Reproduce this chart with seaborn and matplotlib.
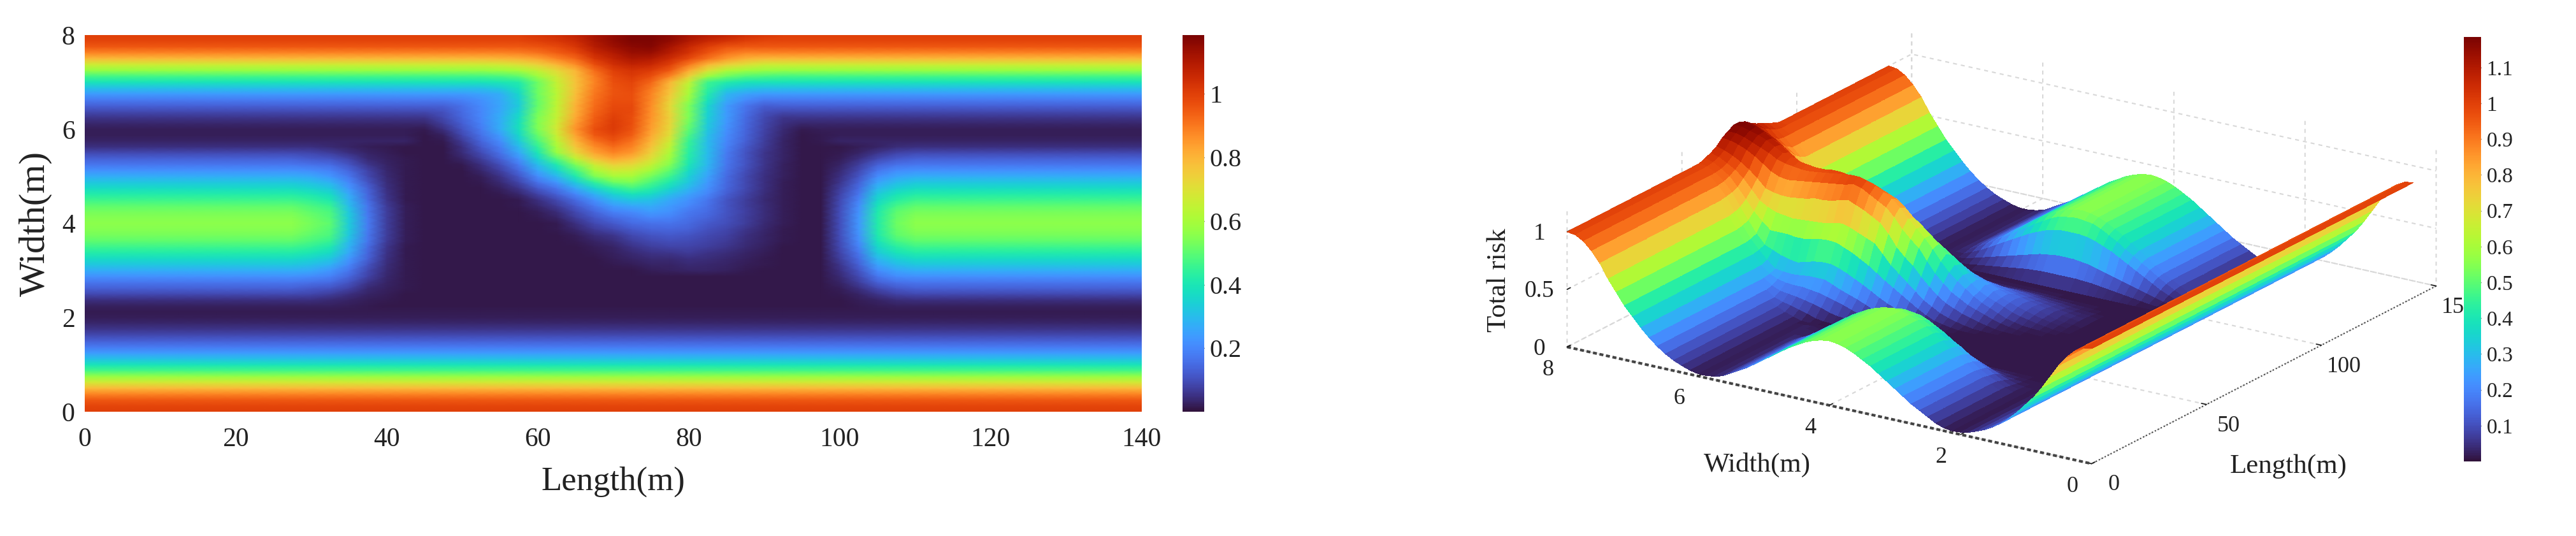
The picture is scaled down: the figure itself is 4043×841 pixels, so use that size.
import numpy as np
import pandas as pd
import matplotlib
matplotlib.use("Agg")
import matplotlib.pyplot as plt
import seaborn as sns

# Risk at width 0, 0.125, ... 8 m (rows) and length 0, 2.5, ... 140 m (columns)
width_m = [i * 0.125 for i in range(65)]
length_m = [i * 2.5 for i in range(57)]

low = [1.0, .99, .95, .88, .79, .68, .57, .47, .39, .31, .24, .18, .13, .09, .06, .035, .02, .015]   # width 0-2.125 m
mid = [.025, .05, .09, .13, .17, .22, .27, .32, .37, .42, .46, .50, .53, .55, .56, .55, .53, .50, .46, .42, .37, .32, .27, .22, .17, .13, .09, .05]   # 2.25-5.625 m
tail = [.03, .02, .02, .035, .06, .09, .13, .18, .24, .31, .39, .47, .57, .67, .79, .88, .95, .99, 1.0]   # 5.75-8 m
dark = .012

L30 = [.025, .05, .085, .12, .16, .21, .26, .31, .35, .40, .44, .48, .50, .52, .53, .52, .50, .48, .44, .40, .35, .31, .26, .21, .16, .12, .085, .05] + tail
L32 = [.025, .04, .07, .11, .15, .19, .23, .28, .32, .37, .41, .45, .48, .49, .50, .49, .48, .45, .41, .37, .32, .28, .23, .19, .15, .11, .07, .04] + tail
L35 = [.02, .03, .05, .08, .11, .14, .17, .20, .23, .26, .28, .30, .32, .33, .33, .33, .32, .30, .28, .26, .23, .20, .17, .14, .11, .08, .05, .03] + tail
L37 = [.015, .02, .03, .04, .06, .08, .09, .11, .13, .14, .15, .17, .17, .18, .18, .18, .17, .17, .15, .14, .13, .11, .09, .08, .06, .04, .03, .02] + tail
L40 = [.012, .015, .02, .025, .03, .035, .04, .045, .05, .055, .06, .065, .07, .07, .07, .07, .07, .065, .06, .055, .05, .045, .04, .035, .03, .025, .02, .015] + tail
L42 = [.012, .012, .012, .014, .014, .015, .015, .016, .017, .018, .018, .019, .02, .02, .02, .02, .02, .019, .018, .018, .017, .016, .015, .015, .014, .014, .012, .012] + tail
L45 = [dark] * 28 + [.012, .012, .015] + tail[3:]
L47 = [dark] * 28 + [.015, .025, .05, .07, .09, .105, .13] + tail[7:]
L50 = [dark] * 24 + [.015, .03, .045, .05, .065, .09, .11, .125, .14, .15, .16, .19] + tail[8:]
L52 = [dark] * 21 + [.014, .02, .035, .05, .07, .095, .12, .14, .16, .18, .19, .20, .20, .205, .22, .25, .31, .39] + tail[11:]
L55 = [dark] * 19 + [.018, .025, .04, .055, .075, .10, .13, .16, .185, .21, .24, .27, .27, .27, .26, .255, .26, .27, .33, .40, .48, .58, .68, .80, .88, .95, .99, 1.0]
L57 = [dark] * 17 + [.014, .018, .035, .06, .085, .115, .145, .18, .22, .26, .295, .33, .36, .38, .38, .37, .35, .33, .34, .36, .39, .42, .50, .60, .70, .81, .89, .95, .99, 1.0]
L60 = [dark] * 15 + [.015, .022, .035, .05, .08, .12, .165, .21, .255, .30, .35, .40, .44, .48, .51, .54, .545, .54, .525, .51, .51, .52, .52, .52, .58, .65, .74, .83, .91, .96, 1.0, 1.02]
L62 = [dark] * 13 + [.014, .018, .03, .045, .065, .09, .13, .17, .23, .29, .35, .41, .49, .57, .60, .63, .66, .68, .67, .65, .645, .64, .635, .63, .64, .65, .68, .72, .80, .88, .94, .98, 1.02, 1.04]
L65 = [dark] * 11 + [.015, .02, .035, .05, .07, .09, .12, .15, .20, .26, .33, .41, .47, .54, .64, .72, .76, .80, .83, .86, .84, .82, .81, .81, .79, .78, .77, .77, .78, .80, .87, .93, .98, 1.02, 1.05, 1.07]
L67 = [dark] * 9 + [.015, .02, .03, .045, .065, .09, .115, .14, .18, .22, .28, .35, .44, .54, .60, .67, .76, .83, .87, .91, .95, .97, .95, .94, .93, .92, .91, .90, .89, .88, .89, .92, .97, 1.02, 1.06, 1.09, 1.11, 1.12]
L70 = [dark] * 7 + [.015, .02, .025, .03, .045, .06, .09, .12, .15, .19, .24, .29, .35, .43, .52, .60, .67, .74, .82, .88, .92, .96, .99, 1.01, 1.01, 1.0, .99, .98, .97, .96, .96, .97, .98, 1.0, 1.04, 1.07, 1.10, 1.13, 1.15, 1.15]
L72 = [dark] * 7 + [.02, .03, .04, .055, .07, .09, .12, .15, .175, .21, .26, .32, .39, .47, .54, .60, .66, .72, .79, .85, .88, .91, .94, .96, .97, .97, .98, .98, .97, .97, .98, .99, 1.01, 1.03, 1.07, 1.11, 1.14, 1.16, 1.18, 1.18]
L75 = [dark] * 6 + [.02, .03, .04, .055, .07, .09, .11, .135, .16, .20, .24, .27, .31, .37, .43, .48, .53, .59, .65, .70, .74, .77, .80, .82, .84, .85, .86, .865, .87, .875, .88, .90, .93, .97, 1.01, 1.06, 1.10, 1.14, 1.17, 1.18, 1.18]
L77 = [dark] * 6 + [.025, .03, .04, .06, .08, .10, .12, .14, .165, .19, .22, .24, .26, .31, .36, .41, .46, .50, .55, .58, .61, .64, .67, .70, .72, .73, .74, .73, .72, .74, .76, .78, .80, .88, .95, 1.0, 1.05, 1.09, 1.12, 1.15, 1.16]
L80 = [dark] * 6 + [.03, .04, .05, .065, .08, .095, .11, .13, .145, .16, .175, .20, .22, .25, .29, .32, .34, .37, .40, .42, .43, .44, .45, .48, .50, .52, .54, .54, .54, .57, .60, .62, .65, .74, .82, .90, .98, 1.03, 1.06, 1.10, 1.12]
L82 = [dark] * 6 + [.028, .035, .045, .055, .07, .08, .09, .105, .12, .135, .15, .16, .17, .195, .22, .235, .25, .27, .29, .295, .30, .30, .30, .31, .32, .33, .34, .35, .36, .39, .42, .44, .46, .58, .70, .80, .91, .96, 1.0, 1.06, 1.09]
L85 = [dark] * 6 + [.025, .03, .035, .045, .06, .065, .075, .085, .10, .105, .11, .11, .11, .125, .14, .145, .15, .16, .17, .175, .18, .19, .20, .21, .22, .23, .24, .24, .24, .265, .29, .35, .42, .52, .62, .74, .85, .91, .96, 1.03, 1.07]
L87 = [dark] * 6 + [.018, .02, .025, .03, .04, .045, .05, .06, .07, .072, .075, .072, .07, .08, .09, .09, .09, .10, .11, .11, .11, .12, .13, .135, .14, .145, .15, .16, .17, .21, .25, .32, .39, .49, .59, .70, .81, .88, .95, 1.0, 1.04]
L90 = [dark] * 7 + [.015, .018, .02, .025, .028, .032, .035, .04, .042, .045, .042, .04, .045, .05, .05, .05, .055, .06, .06, .06, .065, .07, .075, .08, .085, .09, .105, .125, .18, .24, .31, .39, .48, .575, .67, .79, .88, .95, .99, 1.02]
L92 = [dark] * 11 + [.014, .016, .018, .02, .02, .02, .02, .02, .02, .02, .022, .025, .025, .025, .028, .03, .03, .03, .035, .04, .05, .06, .09, .13, .18, .24, .31, .39, .47, .57, .67, .79, .88, .95, .99, 1.0]
L95 = [dark] * 28 + [.012, .012, .018, .035] + tail[4:]
L97 = [dark] * 28 + [.015, .015, .02] + tail[3:]
L100 = [.012, .012, .015, .02, .03, .04, .05, .06, .07, .08, .09, .095, .10, .10, .10, .10, .10, .095, .09, .08, .07, .06, .05, .04, .03, .02, .015, .012] + tail
L102 = [.015, .02, .03, .05, .07, .09, .11, .13, .15, .17, .19, .21, .22, .23, .23, .23, .22, .21, .19, .17, .15, .13, .11, .09, .07, .05, .03, .02] + tail
L105 = [.02, .03, .06, .09, .13, .17, .21, .25, .29, .33, .36, .39, .41, .42, .42, .42, .41, .39, .36, .33, .29, .25, .21, .17, .13, .09, .06, .03] + tail
L107 = [.025, .045, .08, .12, .16, .21, .25, .30, .34, .39, .43, .47, .50, .51, .52, .51, .50, .47, .43, .39, .34, .30, .25, .21, .16, .12, .08, .045] + tail
outer = mid + tail
column_order = ([outer] * 12
                + [L30, L32, L35, L37, L40, L42, L45, L47, L50, L52, L55, L57, L60, L62, L65, L67,
                   L70, L72, L75, L77, L80, L82, L85, L87, L90, L92, L95, L97, L100, L102, L105, L107]
                + [outer] * 13)

left_x_ticks = [0, 20, 40, 60, 80, 100, 120, 140]
left_y_ticks = [0, 2, 4, 6, 8]
left_cbar_ticks = [0.2, 0.4, 0.6, 0.8, 1]
right_cbar_ticks = [0.1, 0.2, 0.3, 0.4, 0.5, 0.6, 0.7, 0.8, 0.9, 1, 1.1]
right_len_ticks = [0, 50, 100, 150]
right_wid_ticks = [0, 2, 4, 6, 8]
right_z_ticks = [0, 0.5, 1]
vmin_risk, vmax_risk = 0.0, 1.185

risk = pd.DataFrame(np.array([low + c for c in column_order]).T, index=width_m, columns=length_m)

sns.set_theme(style="white")
plt.rcParams["font.family"] = ["Liberation Serif", "DejaVu Serif"]
W_PX, H_PX = 4043, 841
cmap = sns.color_palette("turbo", as_cmap=True)
fig = plt.figure(figsize=(W_PX / 100, H_PX / 100), dpi=100, facecolor="white")


def px_rect(x0, x1, y0, y1):
    return [x0 / W_PX, (H_PX - y1) / H_PX, (x1 - x0) / W_PX, (y1 - y0) / H_PX]


# ---- left: map view
ax = fig.add_axes(px_rect(133, 1792, 55, 646))
cax = fig.add_axes(px_rect(1856, 1890, 55, 646))
sns.heatmap(risk, ax=ax, cmap=cmap, vmin=vmin_risk, vmax=vmax_risk, cbar_ax=cax,
            shading="gouraud", xticklabels=False, yticklabels=False,
            cbar_kws={"ticks": left_cbar_ticks})
ax.set_xlim(0, len(length_m) - 1)
ax.set_ylim(0, len(width_m) - 1)
ax.set_xticks([length_m.index(v) for v in left_x_ticks], [str(v) for v in left_x_ticks])
ax.set_yticks([width_m.index(v) for v in left_y_ticks], [str(v) for v in left_y_ticks])
ax.tick_params(axis="x", length=0, pad=18, labelsize=30, labelrotation=0, colors="#222222")
ax.tick_params(axis="y", length=0, pad=11, labelsize=30, labelrotation=0, colors="#222222")
ax.set_xlabel("Length(m)", fontsize=38, color="#222222")
ax.set_ylabel("Width(m)", fontsize=42, color="#222222")
ax.xaxis.set_label_coords(0.5, -0.145)
ax.yaxis.set_label_coords(-0.031, 0.5)
cax.set_yticks(left_cbar_ticks, ["0.2", "0.4", "0.6", "0.8", "1"])
cax.tick_params(length=4, width=1, direction="in", labelsize=29, pad=6, colors="#222222")

# ---- right: surface view
P = 1500
ax3 = fig.add_axes([(3141.5 - 0.5135 * P) / W_PX, (451 - 0.5135 * P) / H_PX, P / W_PX, P / H_PX],
                   projection="3d", computed_zorder=True)
ax3.patch.set_alpha(0)
LL, WW = np.meshgrid(length_m, width_m)
surf = ax3.plot_surface(LL, WW, risk.values, cmap=cmap, vmin=vmin_risk, vmax=vmax_risk,
                        rcount=len(width_m), ccount=len(length_m), shade=False,
                        linewidth=0, antialiased=False)
ax3.set_proj_type("ortho")
ax3.view_init(elev=19.8, azim=-146.7)
ax3.set_box_aspect((1, 1, 0.23), zoom=1370 / P)
ax3.set_xlim(0, 150)
ax3.set_ylim(0, 8)
ax3.set_zlim(0, 1.18)
ax3.set_xticks(right_len_ticks, [str(v) for v in right_len_ticks])
ax3.set_yticks(right_wid_ticks, [str(v) for v in right_wid_ticks], ha="right")
ax3.set_zticks(right_z_ticks, ["0", "0.5", "1"], va="center")
for axis, style in ((ax3.xaxis, (0, (1, 1.5))), (ax3.yaxis, (0, (1.5, 1))), (ax3.zaxis, "-")):
    axis.set_pane_color((1, 1, 1, 0))
    axis._axinfo["grid"].update(color="#d8d8d8", linewidth=1.5, linestyle=(0, (3, 3)))
    axis._axinfo["tick"]["inward_factor"] = 0.0
    axis._axinfo["tick"]["outward_factor"] = 0.12
    axis.line.set_color("#444444")
    axis.line.set_linewidth(1.5 if axis is ax3.xaxis else 3)
    axis.line.set_linestyle(style)
ax3.zaxis.line.set_linewidth(0)
ax3.tick_params(axis="x", labelsize=26, pad=16, colors="#222222")
ax3.tick_params(axis="y", labelsize=26, pad=14, colors="#222222")
ax3.tick_params(axis="z", labelsize=27, pad=10, colors="#222222")

cax3 = fig.add_axes(px_rect(3867, 3894, 58, 724))
cb = fig.colorbar(surf, cax=cax3, ticks=right_cbar_ticks)
cb.outline.set_visible(False)
cb.set_ticklabels([f"{v:g}" for v in right_cbar_ticks])
cax3.tick_params(length=3, width=1, direction="in", labelsize=24, pad=6, colors="#222222")

fig.text(2758 / W_PX, 1 - 729 / H_PX, "Width(m)", fontsize=31, ha="center", va="center", color="#222222")
fig.text(3592 / W_PX, 1 - 732 / H_PX, "Length(m)", fontsize=31, ha="center", va="center", color="#222222")
fig.text(2353 / W_PX, 1 - 440 / H_PX, "Total risk", fontsize=31, rotation=90, ha="center", va="center", color="#222222")

fig.savefig("out.png", dpi=100, facecolor="white")
